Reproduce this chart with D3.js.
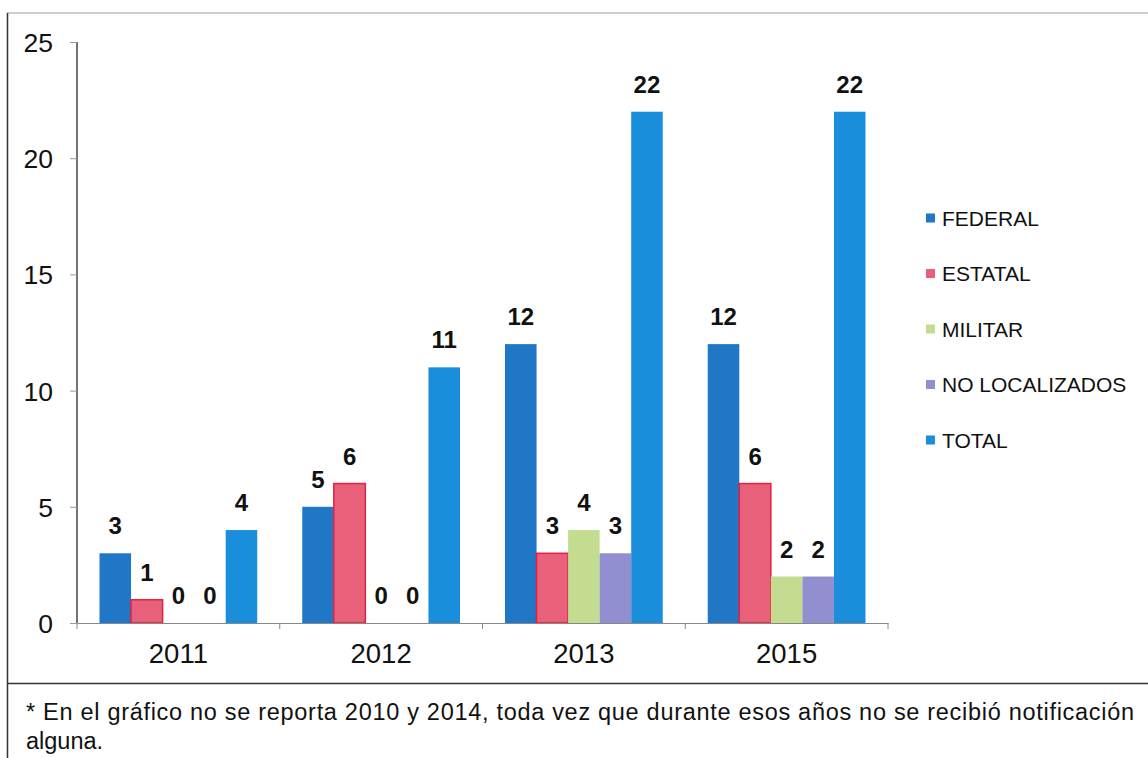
<!DOCTYPE html>
<html><head><meta charset="utf-8">
<script src="https://cdn.jsdelivr.net/npm/d3@7"></script>
<style>body{margin:0;background:#fff;}svg{display:block;font-family:"Liberation Sans",Arial,sans-serif;}</style>
</head><body><svg id="c" width="1148" height="758"></svg>
<script>
const years = ["2011","2012","2013","2015"];
const seriesNames = ["FEDERAL","ESTATAL","MILITAR","NO LOCALIZADOS","TOTAL"];
const federal = [3,5,12,12];
const estatal = [1,6,3,6];
const militar = [0,0,4,2];
const noLocalizados = [0,0,3,2];
const total = [4,11,22,22];
const yTicks = [0,5,10,15,20,25];
const colors = ["#1f77c6","#e9607a","#c4dc8f","#918fcf","#1a8edb"];
const footLine1 = "* En el gráfico no se reporta 2010 y 2014, toda vez que durante esos años no se recibió notificación";
const footLine2 = "alguna.";

const values = [federal, estatal, militar, noLocalizados, total];
const svg = d3.select("#c");

// frame
svg.append("line").attr("x1",7).attr("x2",1148).attr("y1",13).attr("y2",13).attr("stroke","#bbb").attr("stroke-width",1.5);
svg.append("line").attr("x1",7.5).attr("x2",7.5).attr("y1",13).attr("y2",758).attr("stroke","#333").attr("stroke-width",1.5);
svg.append("line").attr("x1",7).attr("x2",1148).attr("y1",683.5).attr("y2",683.5).attr("stroke","#333").attr("stroke-width",1.5);

const y = d3.scaleLinear().domain([0,25]).range([623,42]);
const x0 = d3.scaleBand().domain(years).range([77,888]).padding(0);
const x1 = d3.scaleBand().domain(seriesNames).range([22.5, x0.bandwidth()-22.5]).padding(0);

// y axis
const yAxis = d3.axisLeft(y).tickValues(yTicks).tickSize(7).tickPadding(17);
const gy = svg.append("g").attr("transform","translate(77,0)").call(yAxis);
gy.select(".domain").attr("stroke","#444").attr("stroke-width",1.5).attr("d","M0,42V623");
gy.selectAll(".tick line").attr("stroke","#999");
gy.selectAll(".tick text").attr("font-size",26.5).attr("fill","#111").attr("dy","0.36em");

// bars
const groups = svg.append("g").selectAll("g").data(years).join("g")
  .attr("transform", d => `translate(${x0(d)},0)`);
seriesNames.forEach((s, si) => {
  groups.append("rect")
    .attr("x", x1(s))
    .attr("width", x1.bandwidth())
    .attr("y", (d,i) => y(values[si][i]))
    .attr("height", (d,i) => y(0) - y(values[si][i]))
    .attr("fill", colors[si])
    .attr("stroke", si===1 ? "#e3213f" : "none")
    .attr("stroke-width", si===1 ? 1.5 : 0);
  groups.append("text")
    .attr("x", x1(s) + x1.bandwidth()/2)
    .attr("y", (d,i) => y(values[si][i]) - 19)
    .attr("text-anchor","middle")
    .attr("font-size",24).attr("font-weight","bold").attr("fill","#111")
    .text((d,i) => values[si][i]);
});

// x axis
const xAxis = d3.axisBottom(x0).tickSize(0).tickPadding(20);
const gx = svg.append("g").attr("transform","translate(0,623)").call(xAxis);
gx.select(".domain").attr("stroke","#888").attr("stroke-width",1.2);
gx.selectAll(".tick text").attr("font-size",27.5).attr("fill","#111");
// boundary ticks
const bounds = years.map(d => x0(d)).concat([x0(years[years.length-1]) + x0.bandwidth()]);
gx.selectAll(".bt").data(bounds).join("line").attr("class","bt")
  .attr("x1", d=>d).attr("x2", d=>d).attr("y1",0).attr("y2",6).attr("stroke","#888");

// legend
const lg = svg.append("g").selectAll("g").data(seriesNames).join("g")
  .attr("transform",(d,i)=>`translate(926,${218 + i*55.5})`);
lg.append("rect").attr("x",0).attr("y",-4.5).attr("width",9).attr("height",9).attr("fill",(d,i)=>colors[i]);
lg.append("text").attr("x",16).attr("y",0).attr("dy","0.36em").attr("font-size",21).attr("fill","#111").text(d=>d);

// footnote
svg.append("text").attr("x",26).attr("y",720).attr("font-size",23.5).attr("fill","#111")
  .attr("textLength",1108).attr("lengthAdjust","spacing").text(footLine1);
svg.append("text").attr("x",26).attr("y",749).attr("font-size",23.5).attr("fill","#111").text(footLine2);
</script></body></html>
